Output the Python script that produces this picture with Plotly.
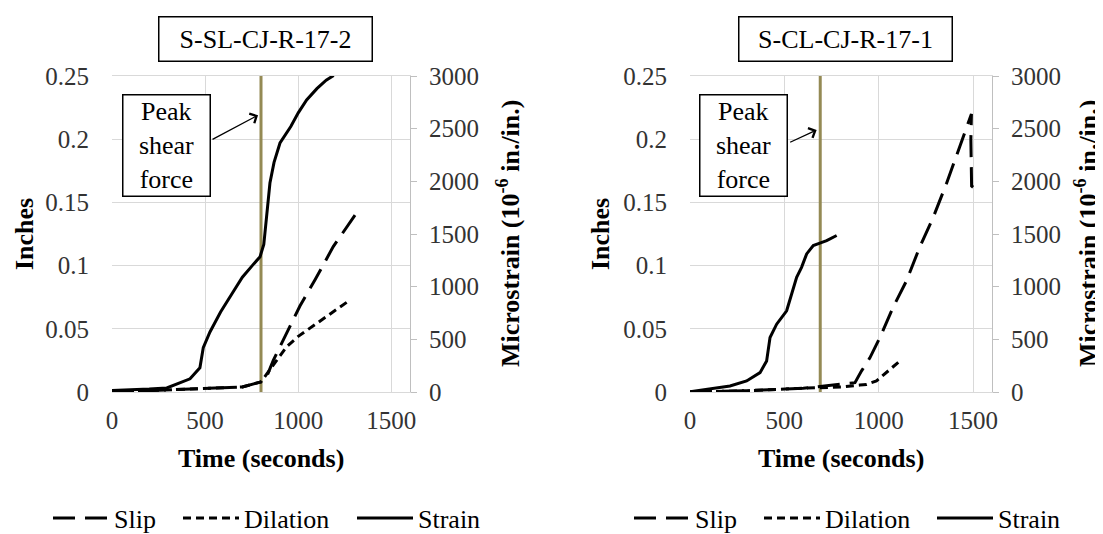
import plotly.graph_objects as go

# page is 1103x534, the browser adds an 8 px body margin at top/left
PAGE_W, PAGE_H = 1103, 534
OFF = 8
W, H = PAGE_W - OFF, PAGE_H - OFF

# ---------------- data: left panel S-SL-CJ-R-17-2 ----------------
L_TITLE = "S-SL-CJ-R-17-2"
L_PEAK_T = 800
L_STRAIN_T = [0, 100, 200, 294, 419, 472, 490, 526, 583, 650, 700, 753, 795, 815, 830,
              848, 870, 902, 960, 1000, 1045, 1100, 1150, 1190]
L_STRAIN = [15, 20, 28, 38, 125, 230, 420, 570, 760, 950, 1090, 1200, 1285, 1400, 1664,
            1984, 2180, 2364, 2520, 2650, 2772, 2880, 2960, 3005]
L_SLIP_T = [0, 200, 400, 600, 700, 800, 830, 866, 1009, 1091, 1188, 1305]
L_SLIP = [0.000, 0.001, 0.002, 0.003, 0.004, 0.008, 0.012, 0.025, 0.068, 0.089, 0.115, 0.140]
L_DIL_T = [0, 200, 400, 600, 700, 800, 848, 938, 1000, 1099, 1200, 1278]
L_DIL = [0.000, 0.001, 0.002, 0.003, 0.004, 0.008, 0.0174, 0.0359, 0.044, 0.0545, 0.065, 0.0728]

# ---------------- data: right panel S-CL-CJ-R-17-1 ----------------
R_TITLE = "S-CL-CJ-R-17-1"
R_PEAK_T = 690
R_STRAIN_T = [0, 212, 300, 371, 406, 424, 459, 512, 565, 591, 618, 653, 688, 724, 777]
R_STRAIN = [3, 57, 105, 184, 295, 517, 644, 771, 1089, 1184, 1311, 1390, 1413, 1438, 1486]
R_SLIP_T = [0, 300, 600, 874, 909, 953, 1006, 1076, 1147, 1218, 1288, 1359, 1429, 1491,
            1488, 1488, 1492, 1500]
R_SLIP = [0.000, 0.001, 0.003, 0.0074, 0.0167, 0.027, 0.043, 0.067, 0.088, 0.115, 0.138,
          0.165, 0.194, 0.220, 0.200, 0.170, 0.163, 0.162]
R_DIL_T = [0, 300, 600, 800, 900, 935, 988, 1041, 1112]
R_DIL = [0.000, 0.001, 0.003, 0.004, 0.0055, 0.006, 0.0087, 0.0153, 0.0246]

SERIES_NAMES = ["Slip", "Dilation", "Strain"]
X_TICKS = [0, 500, 1000, 1500]
X_RANGE = [0, 1600]
IN_RANGE = [0, 0.25]
MS_RANGE = [0, 3000]

FONT = "Liberation Serif, Times New Roman, serif"
GRID = "#d9d9d9"
AXLINE = "#bfbfbf"
TICKCOL = "#333333"
OLIVE = "#948A54"
TICK_SIZE = 25
LBL_SIZE = 26

SLIP_DASH = "22px,10px"
DIL_DASH = "8px,5px"


def px_x(p):
    # page pixel -> paper fraction
    return (p - OFF) / W


def px_y(p):
    return 1 - (p - OFF) / H


fig = go.Figure()

panels = [
    dict(xa="x", ya="y", ya2="y2", legs=["legend", "legend2", "legend3"],
         legx=[48, 178, 352], peak=L_PEAK_T,
         st=L_STRAIN_T, s=L_STRAIN, slt=L_SLIP_T, sl=L_SLIP, dt=L_DIL_T, d=L_DIL),
    dict(xa="x2", ya="y3", ya2="y4", legs=["legend4", "legend5", "legend6"],
         legx=[629, 759, 932], peak=R_PEAK_T,
         st=R_STRAIN_T, s=R_STRAIN, slt=R_SLIP_T, sl=R_SLIP, dt=R_DIL_T, d=R_DIL),
]

for p in panels:
    fig.add_trace(go.Scatter(x=[p["peak"], p["peak"]], y=IN_RANGE, mode="lines",
                             line=dict(color=OLIVE, width=3), xaxis=p["xa"], yaxis=p["ya"],
                             showlegend=False, hoverinfo="skip"))
    fig.add_trace(go.Scatter(x=p["slt"], y=p["sl"], mode="lines", name=SERIES_NAMES[0],
                             line=dict(color="black", width=3, dash=SLIP_DASH),
                             xaxis=p["xa"], yaxis=p["ya"], legend=p["legs"][0]))
    fig.add_trace(go.Scatter(x=p["dt"], y=p["d"], mode="lines", name=SERIES_NAMES[1],
                             line=dict(color="black", width=3, dash=DIL_DASH),
                             xaxis=p["xa"], yaxis=p["ya"], legend=p["legs"][1]))
    fig.add_trace(go.Scatter(x=p["st"], y=p["s"], mode="lines", name=SERIES_NAMES[2],
                             line=dict(color="black", width=3),
                             xaxis=p["xa"], yaxis=p["ya2"], legend=p["legs"][2]))

ydom = [px_y(392), px_y(76)]
xdomL = [px_x(112), px_x(410)]
xdomR = [px_x(690), px_x(992)]

tickfont = dict(family=FONT, size=TICK_SIZE, color=TICKCOL)


def xaxis(dom, anchor):
    return dict(domain=dom, anchor=anchor, range=X_RANGE, tickvals=X_TICKS,
                showgrid=True, gridcolor=GRID, gridwidth=1, zeroline=False,
                showline=True, linecolor=GRID, linewidth=1, mirror=True,
                ticks="", tickfont=tickfont, ticklabelstandoff=6, fixedrange=True)


def yaxis_in(anchor):
    return dict(domain=ydom, anchor=anchor, range=IN_RANGE, dtick=0.05,
                showgrid=True, gridcolor=GRID, gridwidth=1, zeroline=False,
                showline=False, ticks="", tickfont=tickfont, ticklabelstandoff=22,
                fixedrange=True)


def yaxis_ms(anchor, over):
    return dict(domain=ydom, anchor=anchor, overlaying=over, side="right",
                range=MS_RANGE, dtick=500, showgrid=False, zeroline=False,
                showline=True, linecolor=AXLINE, linewidth=1,
                ticks="outside", ticklen=6, tickcolor=AXLINE,
                tickfont=tickfont, ticklabelstandoff=7, fixedrange=True)


legfont = dict(family=FONT, size=LBL_SIZE, color="black")


def legend_at(xp):
    return dict(orientation="h", x=px_x(xp), y=px_y(518), xanchor="left", yanchor="middle",
                font=legfont, itemwidth=56, bgcolor="rgba(0,0,0,0)",
                itemclick=False, itemdoubleclick=False)


layout_legends = {}
for p in panels:
    for name, xp in zip(p["legs"], p["legx"]):
        layout_legends[name] = legend_at(xp)

fig.update_layout(
    width=W, height=H,
    margin=dict(l=0, r=0, t=0, b=0, autoexpand=False),
    paper_bgcolor="white", plot_bgcolor="white",
    font=dict(family=FONT, size=LBL_SIZE, color="black"),
    xaxis=xaxis(xdomL, "y"),
    yaxis=yaxis_in("x"),
    yaxis2=yaxis_ms("x", "y"),
    xaxis2=xaxis(xdomR, "y3"),
    yaxis3=yaxis_in("x2"),
    yaxis4=yaxis_ms("x2", "y3"),
    showlegend=True,
    **layout_legends,
)

ann = []
# boxed titles
for cx, txt in [(265, L_TITLE), (845, R_TITLE)]:
    ann.append(dict(text=txt, x=px_x(cx), y=px_y(39), xref="paper", yref="paper",
                    showarrow=False, xanchor="center", yanchor="middle",
                    font=dict(family=FONT, size=LBL_SIZE, color="black"),
                    bordercolor="black", borderwidth=1.5, borderpad=0,
                    width=212, height=43, bgcolor="white"))
# peak shear force boxes
for cx in [167, 743.5]:
    ann.append(dict(text="Peak<br>shear<br>force", x=px_x(cx), y=px_y(145.5),
                    xref="paper", yref="paper", showarrow=False,
                    xanchor="center", yanchor="middle", align="center",
                    font=dict(family=FONT, size=LBL_SIZE, color="black"),
                    bordercolor="black", borderwidth=1.5, borderpad=0,
                    width=86, height=100, bgcolor="white"))
# arrows
ann.append(dict(text="", x=784, y=0.219, xref="x", yref="y", ax=-47, ay=25,
                showarrow=True, arrowhead=4, arrowsize=1.6, arrowwidth=1.3,
                arrowcolor="black"))
ann.append(dict(text="", x=671, y=0.2073, xref="x2", yref="y3", ax=-28, ay=13,
                showarrow=True, arrowhead=4, arrowsize=1.6, arrowwidth=1.3,
                arrowcolor="black"))
# axis titles
bold = dict(family=FONT, size=LBL_SIZE, color="black")
for cx in [261, 841]:
    ann.append(dict(text="<b>Time (seconds)</b>", x=px_x(cx), y=px_y(458),
                    xref="paper", yref="paper", showarrow=False,
                    xanchor="center", yanchor="middle", font=bold))
for cx in [24, 600]:
    ann.append(dict(text="<b>Inches</b>", x=px_x(cx), y=px_y(234),
                    xref="paper", yref="paper", showarrow=False, textangle=-90,
                    xanchor="center", yanchor="middle", font=bold))
for cx in [508, 1086]:
    ann.append(dict(text="<b>Microstrain (10<sup>-6</sup> in./in.)</b>", x=px_x(cx),
                    y=px_y(234), xref="paper", yref="paper", showarrow=False,
                    textangle=-90, xanchor="center", yanchor="middle", font=bold))

fig.update_layout(annotations=ann)

fig.write_html("out.html")
